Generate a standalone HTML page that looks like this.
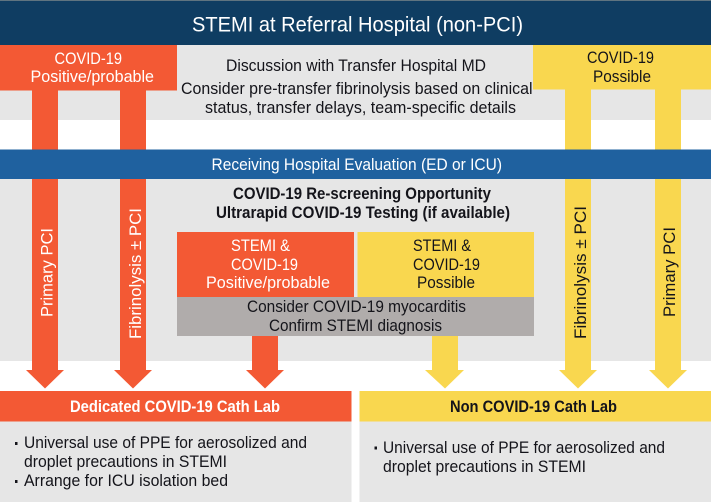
<!DOCTYPE html>
<html lang="en">
<head>
<meta charset="utf-8">
<title>STEMI at Referral Hospital</title>
<style>
html,body{margin:0;padding:0;background:#fff;width:711px;height:502px;overflow:hidden}
svg{display:block}
text{font-family:"Liberation Sans",sans-serif;font-size:16.5px;fill:#14141a}
.w{fill:#fff}
.b{font-weight:bold}
</style>
</head>
<body>
<svg width="711" height="502" viewBox="0 0 711 502" xmlns="http://www.w3.org/2000/svg">
<rect width="711" height="502" fill="#fff"/>
<!-- grey bands -->
<rect x="0" y="45" width="711" height="75" fill="#e6e6e6"/>
<rect x="0" y="179" width="711" height="182" fill="#e6e6e6"/>
<rect x="0" y="421" width="351.5" height="81" fill="#e6e6e6"/>
<rect x="359.5" y="421" width="351.5" height="81" fill="#e6e6e6"/>
<!-- title -->
<rect x="0" y="0" width="711" height="45" fill="#0f3d62"/>
<rect x="0" y="0" width="711" height="1" fill="#5f7480"/>
<!-- header boxes -->
<rect x="0" y="45" width="177" height="45.5" fill="#f35934"/>
<rect x="533" y="45" width="178" height="44.5" fill="#f9d74f"/>
<!-- arrows -->
<g fill="#f35934">
<polygon points="32,90 58,90 58,370 64,370 45,388.5 26,370 32,370"/>
<polygon points="120,90 146,90 146,370 152,370 133,388.5 114,370 120,370"/>
<polygon points="252,336 278,336 278,370 284,370 265,388.5 246,370 252,370"/>
</g>
<g fill="#f9d74f">
<polygon points="432,336 458,336 458,370 464,370 445,388.5 425,370 432,370"/>
<polygon points="565,89 591,89 591,370 597,370 578,388.5 559,370 565,370"/>
<polygon points="655,89 681,89 681,370 687,370 668,388.5 649,370 655,370"/>
</g>
<!-- blue bar -->
<rect x="0" y="149.5" width="711" height="29.5" fill="#1f619f"/>
<!-- centre boxes -->
<rect x="177" y="232" width="177" height="65" fill="#f35934"/>
<rect x="357.5" y="232" width="176.5" height="65" fill="#f9d74f"/>
<rect x="177" y="297" width="357" height="39" fill="#b0acab"/>
<!-- bottom headers -->
<rect x="0" y="391" width="351.5" height="30.5" fill="#f35934"/>
<rect x="359.5" y="391" width="351.5" height="30.5" fill="#f9d74f"/>

<!-- text -->
<text class="w" x="192" y="31.5" style="font-size:21.5px" textLength="331" lengthAdjust="spacingAndGlyphs">STEMI at Referral Hospital (non-PCI)</text>
<text class="w" x="54.5" y="64" textLength="67.5" lengthAdjust="spacingAndGlyphs">COVID-19</text>
<text class="w" x="30.5" y="82" textLength="123.5" lengthAdjust="spacingAndGlyphs">Positive/probable</text>
<text x="226" y="71" textLength="260" lengthAdjust="spacingAndGlyphs">Discussion with Transfer Hospital MD</text>
<text x="181" y="94" textLength="351.5" lengthAdjust="spacingAndGlyphs">Consider pre-transfer fibrinolysis based on clinical</text>
<text x="205" y="113" textLength="311" lengthAdjust="spacingAndGlyphs">status, transfer delays, team-specific details</text>
<text x="587" y="63" textLength="67" lengthAdjust="spacingAndGlyphs">COVID-19</text>
<text x="593" y="82" textLength="58" lengthAdjust="spacingAndGlyphs">Possible</text>
<text class="w" x="211.5" y="170" textLength="290.5" lengthAdjust="spacingAndGlyphs">Receiving Hospital Evaluation (ED or ICU)</text>
<text class="b" x="233" y="199" textLength="258" lengthAdjust="spacingAndGlyphs">COVID-19 Re-screening Opportunity</text>
<text class="b" x="216" y="218" textLength="294" lengthAdjust="spacingAndGlyphs">Ultrarapid COVID-19 Testing (if available)</text>
<text class="w" x="231" y="251" textLength="59" lengthAdjust="spacingAndGlyphs">STEMI &amp;</text>
<text class="w" x="231" y="270" textLength="67" lengthAdjust="spacingAndGlyphs">COVID-19</text>
<text class="w" x="206" y="288" textLength="124" lengthAdjust="spacingAndGlyphs">Positive/probable</text>
<text x="413" y="251" textLength="58" lengthAdjust="spacingAndGlyphs">STEMI &amp;</text>
<text x="413" y="270" textLength="67" lengthAdjust="spacingAndGlyphs">COVID-19</text>
<text x="417" y="288" textLength="58" lengthAdjust="spacingAndGlyphs">Possible</text>
<text x="247" y="312" textLength="219" lengthAdjust="spacingAndGlyphs">Consider COVID-19 myocarditis</text>
<text x="269" y="331" textLength="173" lengthAdjust="spacingAndGlyphs">Confirm STEMI diagnosis</text>

<text class="w" style="font-size:17px" transform="translate(52.5 317) rotate(-90)" textLength="89" lengthAdjust="spacingAndGlyphs">Primary PCI</text>
<text class="w" style="font-size:17px" transform="translate(141 339) rotate(-90)" textLength="131" lengthAdjust="spacingAndGlyphs">Fibrinolysis ± PCI</text>
<text style="font-size:17px" transform="translate(586 339) rotate(-90)" textLength="133" lengthAdjust="spacingAndGlyphs">Fibrinolysis ± PCI</text>
<text style="font-size:17px" transform="translate(675 317) rotate(-90)" textLength="90" lengthAdjust="spacingAndGlyphs">Primary PCI</text>

<text class="w b" x="70" y="412" textLength="210" lengthAdjust="spacingAndGlyphs">Dedicated COVID-19 Cath Lab</text>
<text class="b" x="450" y="412" textLength="167" lengthAdjust="spacingAndGlyphs">Non COVID-19 Cath Lab</text>

<rect x="15" y="442" width="2.5" height="3" fill="#14141a"/>
<text x="24" y="448" textLength="283" lengthAdjust="spacingAndGlyphs">Universal use of PPE for aerosolized and</text>
<text x="24" y="467" textLength="203" lengthAdjust="spacingAndGlyphs">droplet precautions in STEMI</text>
<rect x="15" y="480" width="2.5" height="3" fill="#14141a"/>
<text x="24" y="486" textLength="204" lengthAdjust="spacingAndGlyphs">Arrange for ICU isolation bed</text>

<rect x="374.5" y="446.5" width="2.5" height="3" fill="#14141a"/>
<text x="383" y="453" textLength="282" lengthAdjust="spacingAndGlyphs">Universal use of PPE for aerosolized and</text>
<text x="383" y="472" textLength="203" lengthAdjust="spacingAndGlyphs">droplet precautions in STEMI</text>
</svg>
</body>
</html>
